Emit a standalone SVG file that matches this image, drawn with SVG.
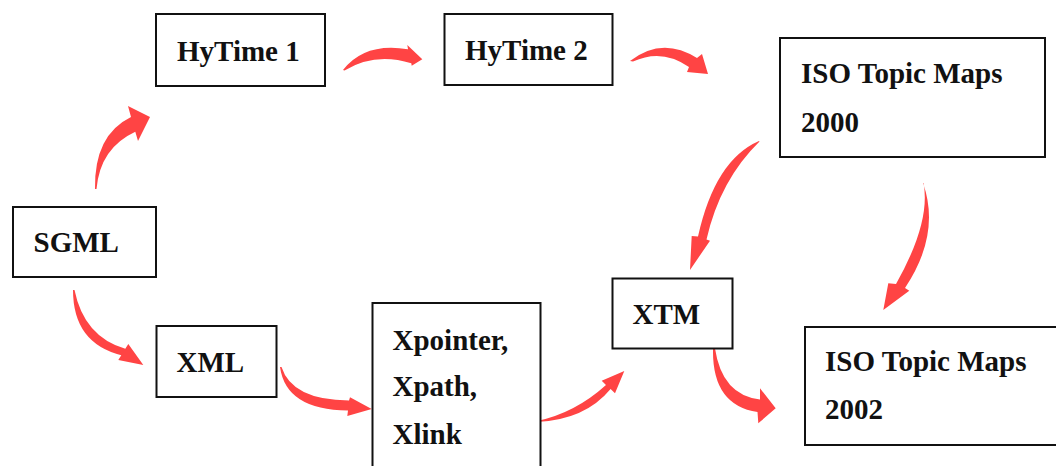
<svg xmlns="http://www.w3.org/2000/svg" width="1056" height="466" viewBox="0 0 1056 466">
  <style>
    .box { fill: #ffffff; stroke: #111111; stroke-width: 2; }
    .lbl { font-weight: 700; font-size: 29px; fill: #111111; }
    .arrow { fill: #ff4444; stroke: none; }
  </style>
  <rect width="1056" height="466" fill="#ffffff"/>

  <!-- curved block arrows: tapered tail, swelling body, triangular head -->
  <g id="connectors">
    <!-- SGML to HyTime 1 -->
    <path class="arrow" d="M95 189 Q94 135 131 117 L128 106 L150 117 L138 141 L135.3 131.7 Q100 148 96.5 189 Z"/>
    <!-- HyTime 1 to HyTime 2 -->
    <path class="arrow" d="M343 70 Q365 42 408 49.3 L407.3 45 L422.3 59.3 L411.7 65.7 L411.3 63.3 Q375 52 344.5 70.5 Z"/>
    <!-- HyTime 2 to ISO Topic Maps 2000 -->
    <path class="arrow" d="M630 61 Q662 36 697 58 L702 54 L708 74 L687 72 L689 67 Q662 48 633 61.5 Z"/>
    <!-- ISO Topic Maps 2000 to XTM -->
    <path class="arrow" d="M759 141 Q715 160 698 236.5 L691.7 236 L690 270 L710 240.7 L706.5 239.5 Q720 180 759.5 141.5 Z"/>
    <!-- ISO Topic Maps 2000 to ISO Topic Maps 2002 -->
    <path class="arrow" d="M923 183 Q941 234 905 288 L909.3 290.7 L883.3 310 L888.3 283.3 L896 284 Q931 222 923.5 183 Z"/>
    <!-- SGML to XML -->
    <path class="arrow" d="M73 290 Q73 343 121.3 355.2 L118.3 360 L143.3 365 L128.3 344 L125.3 348.8 Q84 336.6 74.5 290 Z"/>
    <!-- XML to Xpointer, Xpath, Xlink -->
    <path class="arrow" d="M280 367 Q286 410 348 410.5 L347.3 416 L371.7 409 L350 397.3 L349 400.5 Q292 400 281.5 367 Z"/>
    <!-- Xpointer, Xpath, Xlink to XTM -->
    <path class="arrow" d="M537 422 Q585 420 610.6 389.1 L615 393.3 L624.3 371 L601.7 380.7 L606 385 Q575 413 537 421 Z"/>
    <!-- XTM to ISO Topic Maps 2002 -->
    <path class="arrow" d="M713 349 Q712 405 757.5 412 L758.3 423.3 L775.7 408.3 L760 388.3 L760 399.5 Q722 395 715 348.5 Z"/>
  </g>

  <g font-family="Liberation Serif, serif">
    <g id="node-hytime1">
      <rect class="box" x="156" y="14" width="169" height="72"/>
      <text class="lbl" x="177" y="61">HyTime 1</text>
    </g>
    <g id="node-hytime2">
      <rect class="box" x="444.5" y="14" width="168" height="71"/>
      <text class="lbl" x="465" y="60">HyTime 2</text>
    </g>
    <g id="node-iso2000">
      <rect class="box" x="780" y="38" width="265" height="119"/>
      <text class="lbl" x="801" y="83">ISO Topic Maps</text>
      <text class="lbl" x="801" y="132">2000</text>
    </g>
    <g id="node-sgml">
      <rect class="box" x="13" y="207" width="143" height="70"/>
      <text class="lbl" x="33.5" y="252">SGML</text>
    </g>
    <g id="node-xml">
      <rect class="box" x="156.5" y="326" width="120" height="71"/>
      <text class="lbl" x="176.5" y="372">XML</text>
    </g>
    <g id="node-xpointer">
      <rect class="box" x="372.5" y="303" width="168" height="200"/>
      <text class="lbl" x="392.5" y="350">Xpointer,</text>
      <text class="lbl" x="392.5" y="396">Xpath,</text>
      <text class="lbl" x="392.5" y="444">Xlink</text>
    </g>
    <g id="node-xtm">
      <rect class="box" x="612.5" y="278.5" width="120" height="70"/>
      <text class="lbl" x="632.5" y="324">XTM</text>
    </g>
    <g id="node-iso2002">
      <rect class="box" x="805" y="327" width="300" height="118"/>
      <text class="lbl" x="825" y="371">ISO Topic Maps</text>
      <text class="lbl" x="825" y="419">2002</text>
    </g>
  </g>
</svg>
